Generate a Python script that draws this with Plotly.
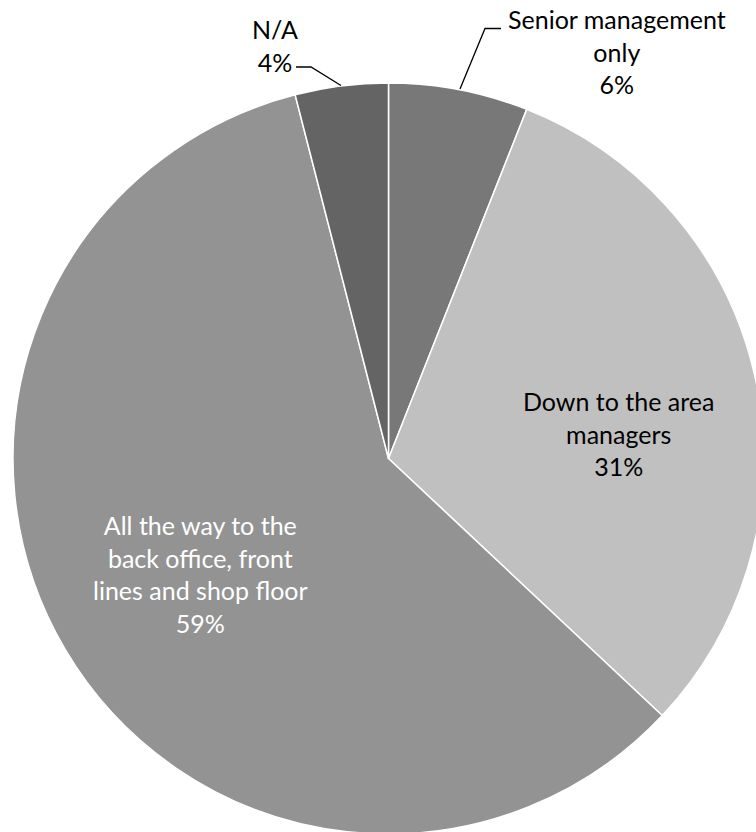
import plotly.graph_objects as go

labels = ["Senior management<br>only", "Down to the area<br>managers",
          "All the way to the<br>back office, front<br>lines and shop floor", "N/A"]
values = [6, 31, 59, 4]
colors = ["#787878", "#c0c0c0", "#939393", "#646464"]
text_colors = ["#000000", "#000000", "#ffffff", "#000000"]

# label anchor points (page pixels) and leader lines
label_pos = [(616.5, 52), (618, 433), (201, 574), (274.5, 45)]
leaders = [[(501, 28.5), (485, 28.5), (460, 89)], None, None,
           [(296, 67), (311, 67), (341, 85.5)]]

W, H = 780, 850
OFF = 0  # body margin removed below
cx, cy, r = 388.5, 458.5, 375.5


def px(x):
    return (x - OFF) / W


def py(y):
    return 1 - (y - OFF) / H


fig = go.Figure(go.Pie(
    labels=labels,
    values=values,
    sort=False,
    direction="clockwise",
    rotation=0,
    marker=dict(colors=colors, line=dict(color="white", width=1.5)),
    textinfo="none",
    domain=dict(x=[px(cx - r), px(cx + r)], y=[py(cy + r), py(cy - r)]),
    showlegend=False,
    hoverinfo="label+percent",
))

total = sum(values)
annotations = []
shapes = []
for lab, v, col, pos, lead in zip(labels, values, text_colors, label_pos, leaders):
    annotations.append(dict(
        x=px(pos[0]), y=py(pos[1]), xref="paper", yref="paper",
        text=f"{lab}<br>{round(100 * v / total)}%",
        showarrow=False, xanchor="center", yanchor="middle", align="center",
        font=dict(family="Lato", size=25, color=col),
    ))
    if lead:
        path = "M " + " L ".join(f"{px(x)},{py(y)}" for x, y in lead)
        shapes.append(dict(type="path", path=path, xref="paper", yref="paper",
                           line=dict(color="#000000", width=1.3)))

fig.update_layout(
    width=W, height=H,
    margin=dict(l=0, r=0, t=0, b=0, pad=0),
    paper_bgcolor="white",
    plot_bgcolor="white",
    font=dict(family="Lato"),
    annotations=annotations,
    shapes=shapes,
)

fig.write_html(
    "out.html",
    config={"displayModeBar": False},
    post_script=("document.body.style.margin='0px';"
                 "document.body.style.overflow='hidden';"
                 "document.documentElement.style.overflow='hidden';"),
)
